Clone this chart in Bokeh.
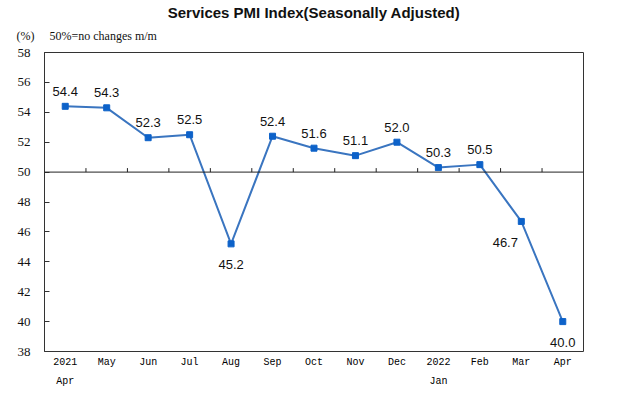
from bokeh.plotting import figure
from bokeh.models import Range1d, FixedTicker, Span, Title, ColumnDataSource
from bokeh.core.properties import value
from bokeh.embed import file_html
from bokeh.resources import INLINE

months = ["2021\nApr", "May", "Jun", "Jul", "Aug", "Sep", "Oct", "Nov", "Dec",
          "2022\nJan", "Feb", "Mar", "Apr"]
pmi = [54.4, 54.3, 52.3, 52.5, 45.2, 52.4, 51.6, 51.1, 52.0, 50.3, 50.5, 46.7, 40.0]
y_ticks = [38, 40, 42, 44, 46, 48, 50, 52, 54, 56, 58]
title_text = "Services PMI Index(Seasonally Adjusted)"
unit_text = "(%)"
note_text = "50%=no changes m/m"
baseline = 50

# label placement style: "a" above, "b" below, "bl" below-left
placement = ["a", "a", "a", "a", "b", "a", "a", "a", "a", "a", "a", "bl", "b"]
offs = {"a": (0, -15), "b": (0, 21), "bl": (-16, 21)}

n = len(months)
xs = [i + 0.5 for i in range(n)]

p = figure(width=610, height=390, output_backend="svg", toolbar_location=None,
           title=None, x_range=Range1d(0, n), y_range=Range1d(38, 58),
           min_border_left=44, min_border_top=52, min_border_right=27,
           min_border_bottom=39, frame_width=539, frame_height=299)
p.background_fill_color = "white"
p.border_fill_color = "white"
p.outline_line_color = "#333333"
p.outline_line_width = 1
p.xgrid.grid_line_color = None
p.ygrid.grid_line_color = None

# y axis
p.yaxis.ticker = FixedTicker(ticks=y_ticks)
p.yaxis.major_tick_in = 5
p.yaxis.major_tick_out = 0
p.yaxis.minor_tick_line_color = None
p.yaxis.axis_line_color = "#333333"
p.yaxis.major_tick_line_color = "#333333"
p.yaxis.major_label_standoff = 14
p.yaxis.major_label_text_font = "Liberation Serif"
p.yaxis.major_label_text_font_size = "13px"
p.yaxis.major_label_text_color = "#111111"

# x axis
p.xaxis.ticker = FixedTicker(ticks=xs)
p.xaxis.major_label_overrides = {x: m for x, m in zip(xs, months)}
p.xaxis.major_tick_line_color = None
p.xaxis.minor_tick_line_color = None
p.xaxis.axis_line_color = None
p.xaxis.major_label_standoff = -1
p.xaxis.major_label_text_font = "Liberation Mono"
p.xaxis.major_label_text_font_size = "10px"
p.xaxis.major_label_text_line_height = 1.8
p.xaxis.major_label_text_color = "#000000"

# 50 line with category boundary ticks
p.add_layout(Span(location=baseline, dimension="width", line_color="#222222", line_width=1))
bounds = list(range(1, n))
tick_h = 4 * (58 - 38) / 299
p.segment(x0=bounds, x1=bounds, y0=[baseline] * len(bounds),
          y1=[baseline + tick_h] * len(bounds), line_color="#222222", line_width=1)

src = ColumnDataSource(dict(x=xs, y=pmi, t=[f"{v:.1f}" for v in pmi],
                            xo=[offs[k][0] for k in placement],
                            yo=[offs[k][1] for k in placement]))
p.line("x", "y", source=src, line_color="#3A75C0", line_width=2)
p.scatter("x", "y", source=src, marker="square", size=6, fill_color="#0D62C9",
          line_color="#0D62C9")
p.text("x", "y", text="t", source=src, x_offset="xo", y_offset="yo",
       text_align="center", text_baseline="middle",
       text_font=value("Liberation Sans"), text_font_size="13px", text_color="#111111")

nb = "\u00a0"
p.add_layout(Title(text=unit_text + nb * 5 + note_text, align="left", offset=-28,
                   standoff=19, text_font="Liberation Serif", text_font_size="12px",
                   text_font_style="normal", text_color="#111111"), "above")
p.add_layout(Title(text=title_text, align="center", offset=6, standoff=-6,
                   text_font="Liberation Sans", text_font_size="15px",
                   text_font_style="bold", text_color="#111111"), "above")

open("out.html", "w").write(file_html(p, INLINE))
